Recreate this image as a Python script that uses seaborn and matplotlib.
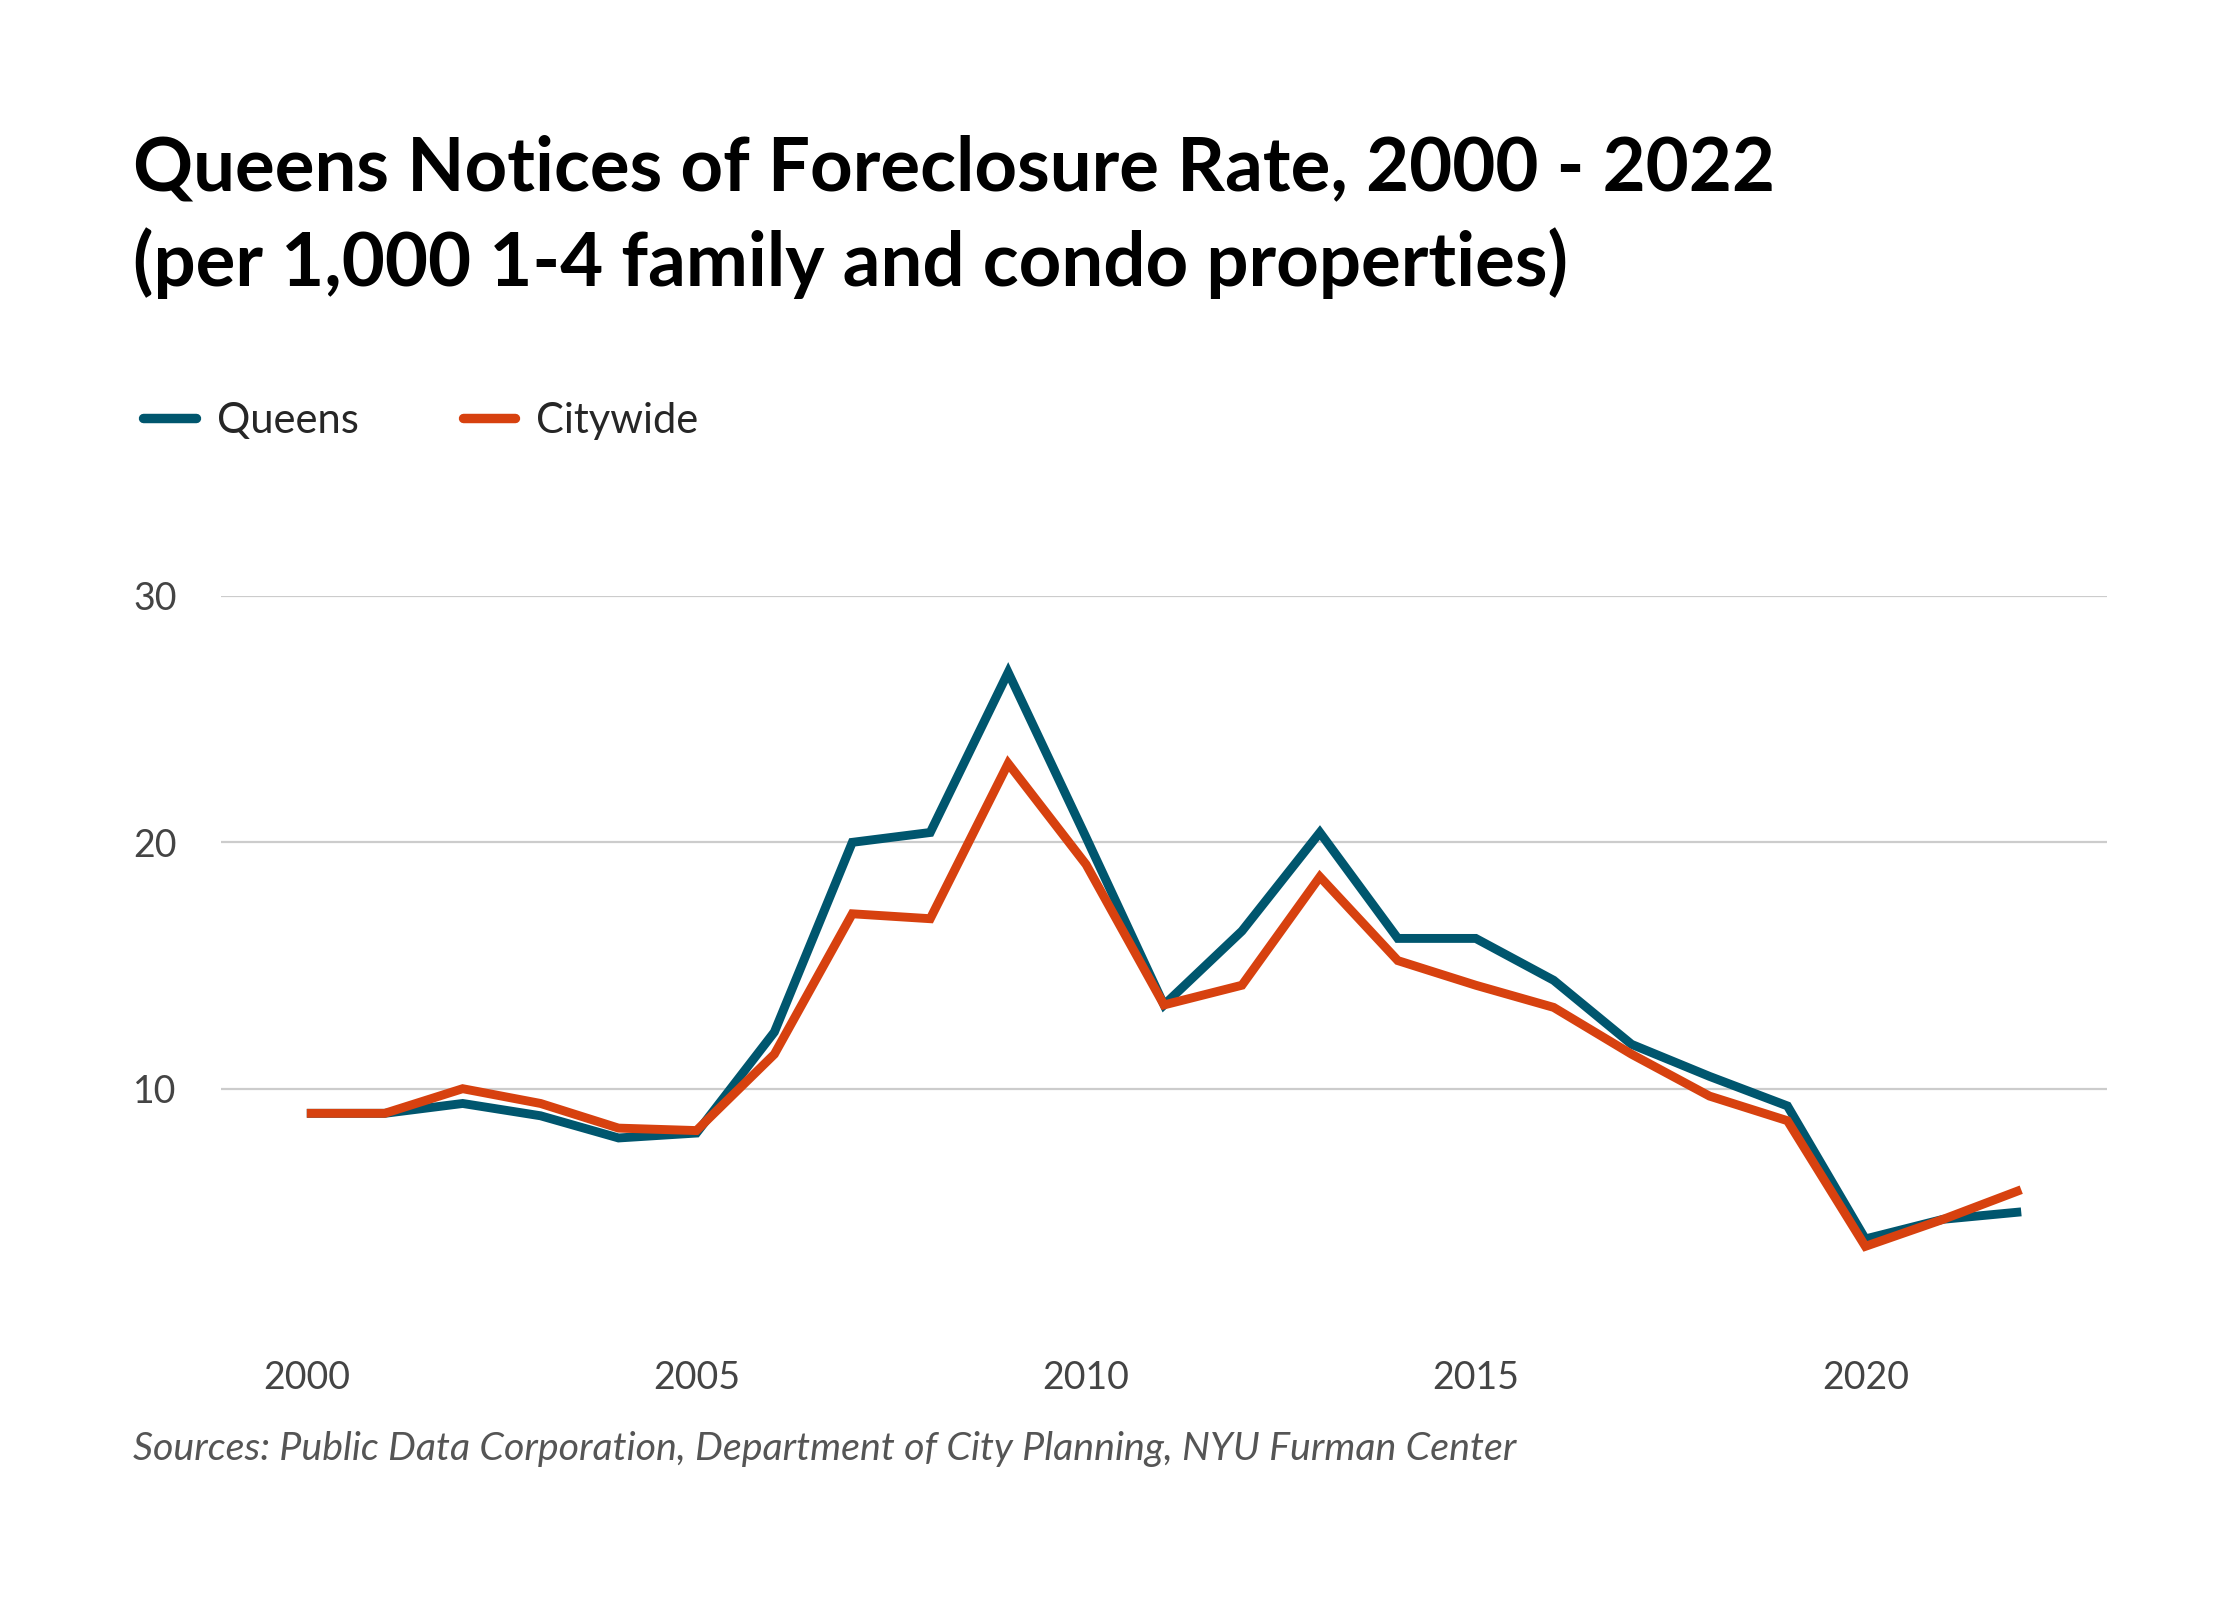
import numpy as np
import pandas as pd
import seaborn as sns
import matplotlib
matplotlib.use("Agg")
import matplotlib.pyplot as plt

# values
years = list(range(2000, 2023))
queens = [9.0, 9.0, 9.4, 8.9, 8.0, 8.2, 12.3, 20.0, 20.4, 26.9, 20.2, 13.4,
          16.4, 20.4, 16.1, 16.1, 14.4, 11.8, 10.5, 9.3, 3.9, 4.7, 5.0]
citywide = [9.0, 9.0, 10.0, 9.4, 8.4, 8.3, 11.4, 17.1, 16.9, 23.2, 19.1, 13.4,
            14.2, 18.6, 15.2, 14.2, 13.3, 11.4, 9.7, 8.7, 3.6, 4.7, 5.9]
series_names = ["Queens", "Citywide"]
colors = ["#00566e", "#d7410f"]
y_ticks = [10, 20, 30]
x_ticks = [2000, 2005, 2010, 2015, 2020]

df = pd.DataFrame({
    "year": years * 2,
    "rate": queens + citywide,
    "area": ["Queens"] * len(years) + ["Citywide"] * len(years),
})

sns.set_theme(style="white")
plt.rcParams["font.family"] = ["Lato", "DejaVu Sans"]

fig = plt.figure(figsize=(11.2, 8), dpi=200)
ax = fig.add_axes([0.0987, 0.1656, 0.8419, 0.4619])

sns.lineplot(data=df, x="year", y="rate", hue="area", hue_order=series_names,
             palette=colors, linewidth=3.2, ax=ax, legend=False)
for ln in ax.lines:
    ln.set_solid_joinstyle("miter")
    ln.set_solid_capstyle("butt")
    ln.set_clip_on(False)

ax.set_xlim(1998.9, 2023.1)
ax.set_ylim(0, 30)
ax.set_yticks(y_ticks)
ax.set_xticks(x_ticks)
ax.set_xlabel("")
ax.set_ylabel("")
ax.grid(axis="y", color="#cccccc", linewidth=0.8)
ax.set_axisbelow(True)
for s in ax.spines.values():
    s.set_visible(False)
ax.tick_params(axis="both", length=0, labelsize=13.5, labelcolor="#444444")
ax.tick_params(axis="y", pad=16)
ax.tick_params(axis="x", pad=9)

# title
fig.text(0.0594, 0.881, "Queens Notices of Foreclosure Rate, 2000 - 2022",
         fontsize=26.8, fontweight="bold", color="#000000", va="baseline")
fig.text(0.0594, 0.821, "(per 1,000 1-4 family and condo properties)",
         fontsize=26.8, fontweight="bold", color="#000000", va="baseline")

# legend
handles = [plt.Line2D([], [], color=c, linewidth=3.4) for c in colors]
leg = fig.legend(handles, series_names, loc="center left",
                 bbox_to_anchor=(0.047, 0.737), ncol=2, frameon=False,
                 fontsize=15, handlelength=1.27, handletextpad=0.5,
                 columnspacing=2.5)

# source
fig.text(0.0594, 0.0875,
         "Sources: Public Data Corporation, Department of City Planning, NYU Furman Center",
         fontsize=14.2, style="italic", color="#555555", va="baseline")

fig.savefig("out.png", dpi=200, facecolor="white")
